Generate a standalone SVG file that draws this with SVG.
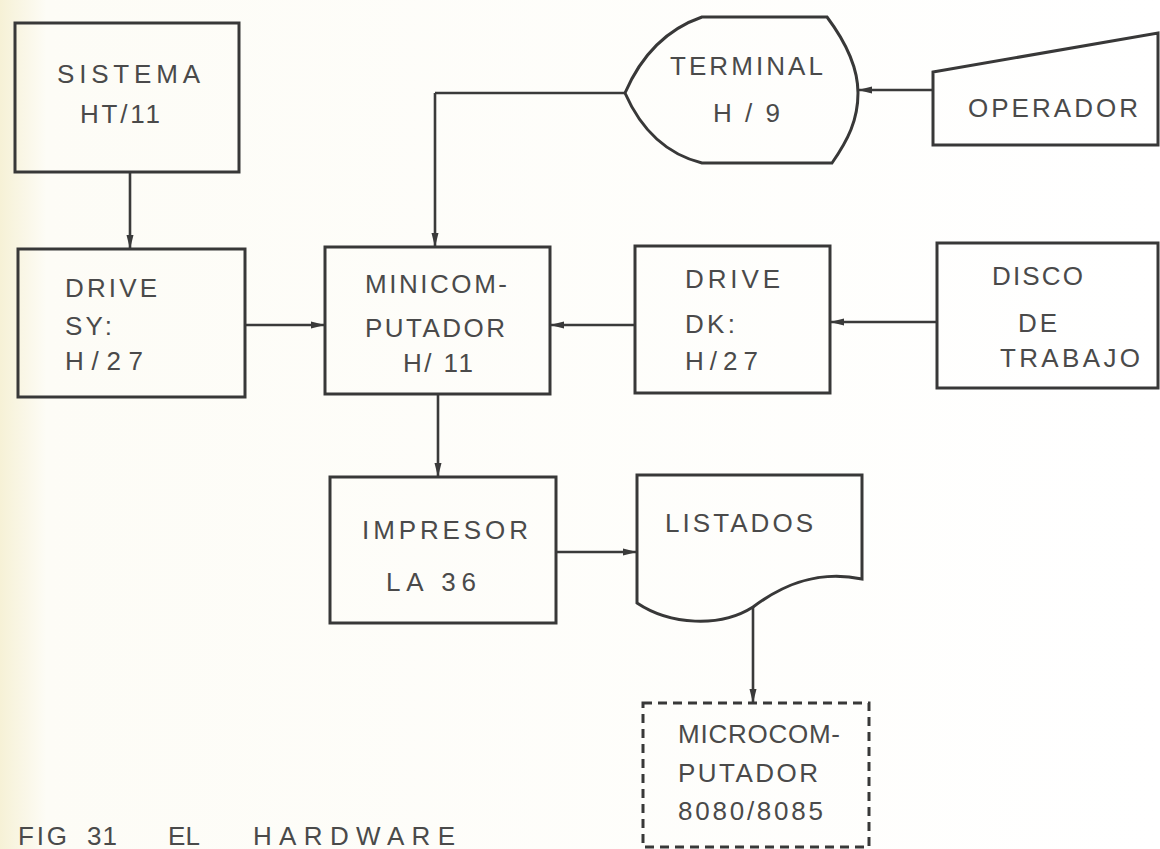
<svg xmlns="http://www.w3.org/2000/svg" width="1160" height="849" viewBox="0 0 1160 849">
<defs>
<linearGradient id="paper" x1="0" y1="0" x2="1" y2="0">
<stop offset="0" stop-color="#f6f1d6"/>
<stop offset="0.04" stop-color="#fdfcf6"/>
<stop offset="1" stop-color="#ffffff"/>
</linearGradient>
<marker id="ah" markerWidth="14" markerHeight="8" refX="14" refY="4" orient="auto" markerUnits="userSpaceOnUse">
<path d="M0,0.5 L14,4 L0,7.5 z" fill="#3a3a3a"/>
</marker>
<style>
.b{fill:none;stroke:#383838;stroke-width:3}
.d{fill:none;stroke:#383838;stroke-width:3;stroke-dasharray:9 6}
.c{fill:none;stroke:#3a3a3a;stroke-width:2.6;marker-end:url(#ah)}
.l{fill:none;stroke:#3a3a3a;stroke-width:2.6}
text{font-family:"Liberation Sans","DejaVu Sans",sans-serif;font-size:26px;fill:#4a4a4a}
</style>
</defs>
<rect x="0" y="0" width="1160" height="849" fill="url(#paper)"/>
<g id="connectors">
<path class="c" d="M130,172 L130,249"/>
<path class="c" d="M245,325 L325,325"/>
<path class="l" d="M625,93 L435,93"/>
<path class="c" d="M435,93 L435,247"/>
<path class="c" d="M933,90 L858,90"/>
<path class="c" d="M635,325 L550,325"/>
<path class="c" d="M937,322 L830,322"/>
<path class="c" d="M438,394 L438,477"/>
<path class="c" d="M556,552 L637,552"/>
<path class="c" d="M753,607 L753,703"/>
</g>
<g id="sistema">
<rect class="b" x="15" y="23" width="224" height="149"/>
<text x="57" y="83" textLength="143" lengthAdjust="spacing">SISTEMA</text>
<text x="80" y="123" textLength="80" lengthAdjust="spacing">HT/11</text>
</g>
<g id="drive-sy">
<rect class="b" x="18" y="249" width="227" height="148"/>
<text x="65" y="297" textLength="92" lengthAdjust="spacing">DRIVE</text>
<text x="65" y="335" textLength="47" lengthAdjust="spacing">SY:</text>
<text x="65" y="370" textLength="78" lengthAdjust="spacing">H/27</text>
</g>
<g id="terminal">
<path class="b" d="M702,17 L827,17 C848,45 858,70 858,93 C858,120 848,140 832,163 L702,163 Q650,150 625,93 Q650,35 702,17 Z"/>
<text x="670" y="75" textLength="153" lengthAdjust="spacing">TERMINAL</text>
<text x="713" y="122" textLength="67" lengthAdjust="spacing">H / 9</text>
</g>
<g id="operador">
<path class="b" d="M933,72 L1158,33 L1158,145 L933,145 Z"/>
<text x="968" y="117" textLength="170" lengthAdjust="spacing">OPERADOR</text>
</g>
<g id="minicomputador">
<rect class="b" x="325" y="247" width="225" height="147"/>
<text x="365" y="293" textLength="142" lengthAdjust="spacing">MINICOM-</text>
<text x="365" y="337" textLength="140" lengthAdjust="spacing">PUTADOR</text>
<text x="403" y="372" textLength="70" lengthAdjust="spacing">H/ 11</text>
</g>
<g id="drive-dk">
<rect class="b" x="635" y="246" width="195" height="147"/>
<text x="685" y="288" textLength="95" lengthAdjust="spacing">DRIVE</text>
<text x="685" y="333" textLength="50" lengthAdjust="spacing">DK:</text>
<text x="685" y="370" textLength="73" lengthAdjust="spacing">H/27</text>
</g>
<g id="disco">
<rect class="b" x="937" y="243" width="221" height="145"/>
<text x="992" y="285" textLength="91" lengthAdjust="spacing">DISCO</text>
<text x="1018" y="332" textLength="39" lengthAdjust="spacing">DE</text>
<text x="1000" y="367" textLength="140" lengthAdjust="spacing">TRABAJO</text>
</g>
<g id="impresor">
<rect class="b" x="330" y="477" width="226" height="146"/>
<text x="362" y="539" textLength="166" lengthAdjust="spacing">IMPRESOR</text>
<text x="386" y="591" textLength="90" lengthAdjust="spacing">LA 36</text>
</g>
<g id="listados">
<path class="b" d="M637,475 L862,475 L862,579 C820,570 785,583 753,607 C720,628 670,625 637,603 Z"/>
<text x="665" y="532" textLength="148" lengthAdjust="spacing">LISTADOS</text>
</g>
<g id="microcomputador">
<rect class="d" x="643" y="703" width="226" height="144"/>
<text x="678" y="743" textLength="162" lengthAdjust="spacing">MICROCOM-</text>
<text x="678" y="782" textLength="140" lengthAdjust="spacing">PUTADOR</text>
<text x="678" y="820" textLength="145" lengthAdjust="spacing">8080/8085</text>
</g>
<g id="caption">
<text y="845" style="font-size:26px"><tspan x="18" textLength="49" lengthAdjust="spacing">FIG</tspan><tspan x="87" textLength="30" lengthAdjust="spacing">31</tspan><tspan x="168" textLength="32" lengthAdjust="spacing">EL</tspan><tspan x="253" textLength="202" lengthAdjust="spacing">HARDWARE</tspan></text>
</g>
</svg>
